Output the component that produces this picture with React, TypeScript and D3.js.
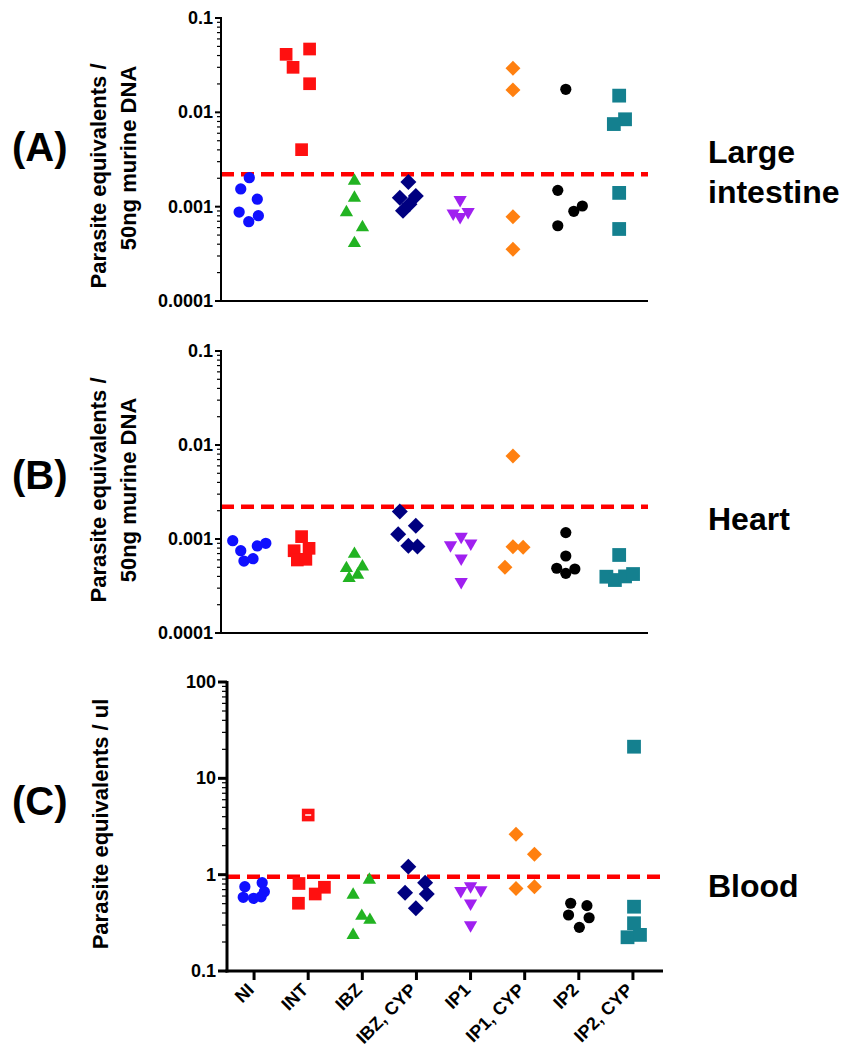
import React from "react";
import * as d3 from "d3";

// ---------------- DATA ----------------
const categories = ["NI", "INT", "IBZ", "IBZ, CYP", "IP1", "IP1, CYP", "IP2", "IP2, CYP"];

const tickLabelsTissue = ["0.0001", "0.001", "0.01", "0.1"];
const tickValuesTissue = [0.0001, 0.001, 0.01, 0.1];
const tickLabelsBlood = ["0.1", "1", "10", "100"];
const tickValuesBlood = [0.1, 1, 10, 100];

// (A) Large intestine – parasite equivalents / 50ng murine DNA
const largeIntestineValues = [
  [0.00203, 0.00154, 0.0012, 0.000877, 0.000693, 0.000802],
  [0.0412, 0.03, 0.0469, 0.0201, 0.00402],
  [0.00188, 0.00124, 0.00087, 0.000604, 0.000409],
  [0.00183, 0.00124, 0.0013, 0.00106, 0.000906],
  [0.00118, 0.00085, 0.00088, 0.00078],
  [0.0293, 0.0173, 0.000783, 0.000353],
  [0.01754, 0.00149, 0.001016, 0.000893, 0.000628],
  [0.01503, 0.00844, 0.00751, 0.0014, 0.00058],
];
const largeIntestineJitter = [
  [0.03, -0.13, 0.18, -0.16, 0.02, 0.2],
  [-0.28, -0.15, 0.16, 0.16, 0.01],
  [0, 0, -0.15, 0.15, 0],
  [0.01, -0.15, 0.15, 0.03, -0.09],
  [-0.02, -0.15, 0.13, -0.02],
  [-0.03, -0.03, -0.03, -0.03],
  [-0.04, -0.19, 0.27, 0.11, -0.19],
  [-0.04, 0.07, -0.14, -0.04, -0.04],
];
const largeIntestineThreshold = 0.0022;

// (B) Heart
const heartValues = [
  [0.00096, 0.000751, 0.000583, 0.000617, 0.000843, 0.0009],
  [0.00106, 0.00075, 0.000796, 0.000598, 0.000608],
  [0.000692, 0.000488, 0.000507, 0.000382, 0.000414],
  [0.00196, 0.00138, 0.00112, 0.00085, 0.00083],
  [0.00106, 0.000863, 0.0009, 0.000622, 0.000351],
  [0.00764, 0.000828, 0.000815, 0.0005],
  [0.00117, 0.000659, 0.000488, 0.00048, 0.000431],
  [0.000676, 0.000397, 0.000366, 0.0004, 0.000424],
];
const heartJitter = [
  [-0.28, -0.13, -0.07, 0.1, 0.18, 0.34],
  [0.01, -0.13, 0.15, -0.07, 0.09],
  [0, -0.15, 0.15, -0.1, 0.06],
  [-0.15, 0.15, -0.18, 0.01, 0.18],
  [0, -0.2, 0.18, 0, 0],
  [-0.03, -0.03, 0.16, -0.18],
  [-0.04, -0.04, -0.21, 0.13, -0.04],
  [-0.04, -0.28, -0.12, 0.07, 0.22],
];
const heartThreshold = 0.0022;

// (C) Blood – parasite equivalents / ul
const bloodValues = [
  [0.75, 0.826, 0.666, 0.582, 0.568, 0.59],
  [0.81, 0.74, 0.63, 0.505, 4.16],
  [0.88, 0.615, 0.372, 0.338, 0.236],
  [1.21, 0.826, 0.65, 0.63, 0.448],
  [0.762, 0.68, 0.69, 0.505, 0.3],
  [2.63, 1.63, 0.72, 0.75],
  [0.505, 0.477, 0.381, 0.357, 0.284],
  [21.3, 0.465, 0.313, 0.224, 0.237],
];
const bloodJitter = [
  [-0.17, 0.15, 0.19, -0.2, -0.01, 0.13],
  [-0.17, 0.3, 0.13, -0.18, 0],
  [0.13, -0.17, -0.01, 0.14, -0.17],
  [-0.15, 0.16, -0.21, 0.19, -0.01],
  [0, -0.18, 0.19, 0, 0],
  [-0.16, 0.18, -0.16, 0.18],
  [-0.15, 0.15, -0.19, 0.19, 0.01],
  [0.02, 0.02, 0.02, -0.1, 0.13],
];
const bloodThreshold = 0.95;
// points drawn with a white dash inside (category index, point index)
const bloodDashedMarks = [[1, 4]];

// ---------------- STYLE ----------------
const FONT = "'Liberation Sans', Arial, Helvetica, sans-serif";
const colors = ["#1010ff", "#ff1010", "#22b322", "#000080", "#a020f0", "#ff8010", "#000000", "#14808f"];
const shapes = ["circle", "square", "triangleUp", "diamond", "triangleDown", "diamond", "circle", "square"];
const markerArea = [100, 161, 76, 128, 76, 112, 98, 190];

function markerPath(shape: string, area: number) {
  let type: any = d3.symbolCircle;
  if (shape === "square" || shape === "diamond") type = d3.symbolSquare;
  if (shape === "triangleUp" || shape === "triangleDown") type = d3.symbolTriangle;
  return d3.symbol().type(type).size(area)() as string;
}
function markerRotation(shape: string) {
  if (shape === "diamond") return 45;
  if (shape === "triangleDown") return 180;
  return 0;
}

type Layout = {
  x0: number; x1: number; axisEnd: number; yTop: number; yBottom: number;
  axisWidth: number; majorLen: number; minorLen: number; xTicks: boolean;
};

function Panel(props: {
  values: number[][]; jitter: number[][]; threshold: number; domain: [number, number];
  tickValues: number[]; tickLabels: string[]; layout: Layout; dashed?: number[][];
}) {
  const { values, jitter, threshold, domain, tickValues, tickLabels, layout, dashed } = props;
  const y = d3.scaleLog().domain(domain).range([layout.yBottom, layout.yTop]);
  const x = d3.scaleBand().domain(categories).range([layout.x0, layout.x1]).padding(0);
  const bw = x.bandwidth();
  const minor: number[] = [];
  const e0 = Math.round(Math.log10(domain[0]));
  const e1 = Math.round(Math.log10(domain[1]));
  for (let e = e0; e < e1; e++) for (let k = 2; k <= 9; k++) minor.push(k * Math.pow(10, e));
  const ax = layout.x0;
  return (
    <g>
      {/* threshold */}
      <line x1={ax} x2={layout.axisEnd} y1={y(threshold)} y2={y(threshold)}
        stroke="#ff0000" strokeWidth={4.5} strokeDasharray="13 7" />
      {/* points */}
      {values.map((arr, ci) =>
        arr.map((v, pi) => {
          const cx = (x(categories[ci]) as number) + bw / 2 + jitter[ci][pi] * bw;
          const cy = y(v);
          const isDashed = dashed && dashed.some((d) => d[0] === ci && d[1] === pi);
          return (
            <g key={ci + "-" + pi} transform={`translate(${cx},${cy}) rotate(${markerRotation(shapes[ci])})`}>
              <path d={markerPath(shapes[ci], markerArea[ci])} fill={colors[ci]} />
              {isDashed && <line x1={-3} x2={3} y1={0} y2={0} stroke="#fff" strokeWidth={1.5} />}
            </g>
          );
        })
      )}
      {/* y axis */}
      <line x1={ax} x2={ax} y1={layout.yTop - 1} y2={layout.yBottom + layout.axisWidth / 2} stroke="#000" strokeWidth={layout.axisWidth} />
      {minor.map((v, i) => (
        <line key={"m" + i} x1={ax - layout.minorLen} x2={ax} y1={y(v)} y2={y(v)} stroke="#000" strokeWidth={1.2} />
      ))}
      {tickValues.map((v, i) => (
        <g key={"t" + i}>
          <line x1={ax - layout.majorLen} x2={ax} y1={y(v)} y2={y(v)} stroke="#000" strokeWidth={layout.axisWidth} />
          <text x={ax - layout.majorLen - 2} y={y(v) + 6} textAnchor="end" fontFamily={FONT}
            fontWeight="bold" fontSize={18} fill="#000">{tickLabels[i]}</text>
        </g>
      ))}
      {/* x axis */}
      <line x1={ax - layout.axisWidth / 2} x2={layout.axisEnd} y1={layout.yBottom} y2={layout.yBottom} stroke="#000" strokeWidth={layout.axisWidth} />
      {layout.xTicks && categories.map((c, i) => {
        const cx = (x(c) as number) + bw / 2;
        return (
          <g key={"x" + i}>
            <line x1={cx} x2={cx} y1={layout.yBottom} y2={layout.yBottom + 9} stroke="#000" strokeWidth={3} />
            <text transform={`translate(${cx + 1},${layout.yBottom + 20}) rotate(-45)`} textAnchor="end"
              fontFamily={FONT} fontWeight="bold" fontSize={18} fill="#000">{c}</text>
          </g>
        );
      })}
    </g>
  );
}

export default function App() {
  const layoutA: Layout = { x0: 221, x1: 648, axisEnd: 648, yTop: 18, yBottom: 301, axisWidth: 2, majorLen: 6, minorLen: 4, xTicks: false };
  const layoutB: Layout = { x0: 221, x1: 648, axisEnd: 648, yTop: 351, yBottom: 633, axisWidth: 2, majorLen: 6, minorLen: 4, xTicks: false };
  const layoutC: Layout = { x0: 227, x1: 660, axisEnd: 663, yTop: 682, yBottom: 971, axisWidth: 3, majorLen: 9, minorLen: 5, xTicks: true };
  const bigText = { fontFamily: FONT, fontWeight: "bold" as const, fill: "#000" };
  return (
    <svg width={844} height={1059} style={{ position: "absolute", left: 0, top: 0, background: "#fff" }}>
      <rect x={0} y={0} width={844} height={1059} fill="#fff" />
      {/* panel labels */}
      <text x={12} y={161} fontSize={40} {...bigText}>(A)</text>
      <text x={12} y={489} fontSize={40} {...bigText}>(B)</text>
      <text x={12} y={815} fontSize={40} {...bigText}>(C)</text>

      {/* y titles */}
      <text transform="translate(106,176) rotate(-90)" textAnchor="middle" fontSize={22} {...bigText}>Parasite equivalents /</text>
      <text transform="translate(136,158) rotate(-90)" textAnchor="middle" fontSize={22} {...bigText}>50ng murine DNA</text>
      <text transform="translate(106,490) rotate(-90)" textAnchor="middle" fontSize={22} {...bigText}>Parasite equivalents /</text>
      <text transform="translate(136,490) rotate(-90)" textAnchor="middle" fontSize={22} {...bigText}>50ng murine DNA</text>
      <text transform="translate(108,824) rotate(-90)" textAnchor="middle" fontSize={22} {...bigText}>Parasite equivalents / ul</text>

      {/* tissue names */}
      <text x={708} y={163} fontSize={32} {...bigText}>Large</text>
      <text x={708} y={203} fontSize={32} {...bigText}>intestine</text>
      <text x={708} y={530} fontSize={32} {...bigText}>Heart</text>
      <text x={708} y={897} fontSize={32} {...bigText}>Blood</text>

      <Panel values={largeIntestineValues} jitter={largeIntestineJitter} threshold={largeIntestineThreshold}
        domain={[0.0001, 0.1]} tickValues={tickValuesTissue} tickLabels={tickLabelsTissue} layout={layoutA} />
      <Panel values={heartValues} jitter={heartJitter} threshold={heartThreshold}
        domain={[0.0001, 0.1]} tickValues={tickValuesTissue} tickLabels={tickLabelsTissue} layout={layoutB} />
      <Panel values={bloodValues} jitter={bloodJitter} threshold={bloodThreshold}
        domain={[0.1, 100]} tickValues={tickValuesBlood} tickLabels={tickLabelsBlood} layout={layoutC}
        dashed={bloodDashedMarks} />
    </svg>
  );
}
